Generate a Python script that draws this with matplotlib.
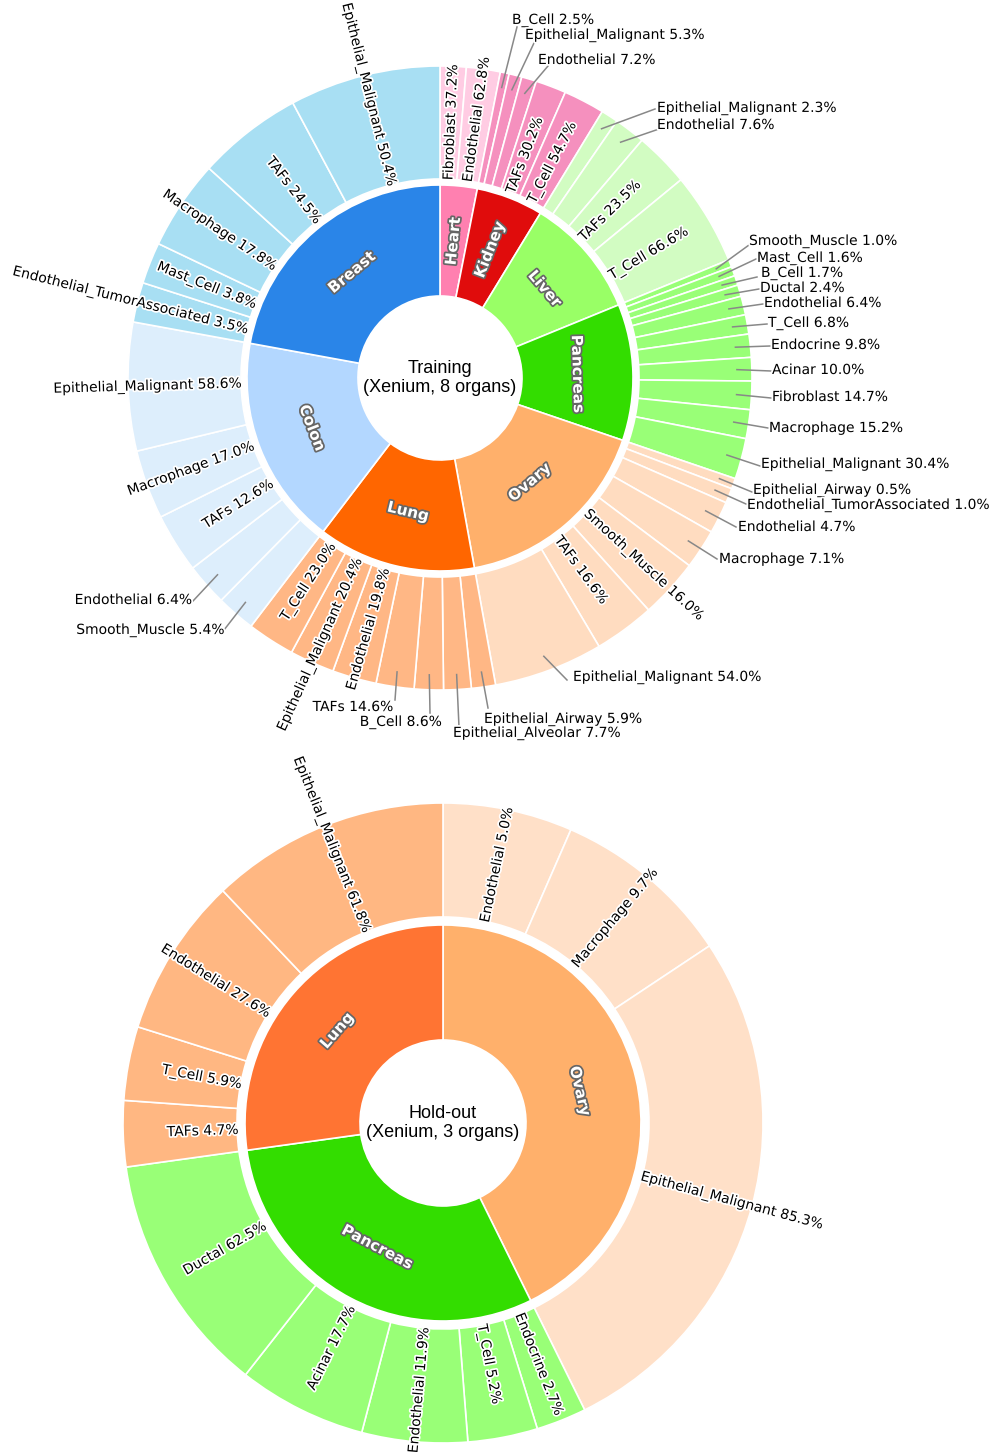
"""
Two-ring sunbursts of cell-type composition per organ (training vs hold-out).
Outer ring widths use sqrt of the within-organ percentages.
"""
import numpy as np
import matplotlib
matplotlib.use("Agg")
import matplotlib.pyplot as plt
import matplotlib.patheffects as pe

W, H = 996, 1452

# ---------------- training set (8 organs), clockwise from 12 o'clock ----------------
train_organs = ["Heart", "Kidney", "Liver", "Pancreas", "Ovary", "Lung", "Colon", "Breast"]
train_share = [3.1, 5.6, 10.1, 11.4, 16.9, 13.2, 17.5, 22.1]  # % of inner ring

train_types = {
    "Heart": ["Fibroblast", "Endothelial"],
    "Kidney": ["B_Cell", "Epithelial_Malignant", "Endothelial", "TAFs", "T_Cell"],
    "Liver": ["Epithelial_Malignant", "Endothelial", "TAFs", "T_Cell"],
    "Pancreas": ["Smooth_Muscle", "Mast_Cell", "B_Cell", "Ductal", "Endothelial", "T_Cell",
                 "Endocrine", "Acinar", "Fibroblast", "Macrophage", "Epithelial_Malignant"],
    "Ovary": ["Epithelial_Airway", "Endothelial_TumorAssociated", "Endothelial", "Macrophage",
              "Smooth_Muscle", "TAFs", "Epithelial_Malignant"],
    "Lung": ["Epithelial_Airway", "Epithelial_Alveolar", "B_Cell", "TAFs", "Endothelial",
             "Epithelial_Malignant", "T_Cell"],
    "Colon": ["Smooth_Muscle", "Endothelial", "TAFs", "Macrophage", "Epithelial_Malignant"],
    "Breast": ["Endothelial_TumorAssociated", "Mast_Cell", "Macrophage", "TAFs", "Epithelial_Malignant"],
}
train_pct = {
    "Heart": [37.2, 62.8],
    "Kidney": [2.5, 5.3, 7.2, 30.2, 54.7],
    "Liver": [2.3, 7.6, 23.5, 66.6],
    "Pancreas": [1.0, 1.6, 1.7, 2.4, 6.4, 6.8, 9.8, 10.0, 14.7, 15.2, 30.4],
    "Ovary": [0.5, 1.0, 4.7, 7.1, 16.0, 16.6, 54.0],
    "Lung": [5.9, 7.7, 8.6, 14.6, 19.8, 20.4, 23.0],
    "Colon": [5.4, 6.4, 12.6, 17.0, 58.6],
    "Breast": [3.5, 3.8, 17.8, 24.5, 50.4],
}

# ---------------- hold-out set (3 organs) ----------------
hold_organs = ["Ovary", "Pancreas", "Lung"]
hold_share = [42.7, 30.1, 27.2]
hold_types = {
    "Ovary": ["Endothelial", "Macrophage", "Epithelial_Malignant"],
    "Pancreas": ["Endocrine", "T_Cell", "Endothelial", "Acinar", "Ductal"],
    "Lung": ["TAFs", "T_Cell", "Endothelial", "Epithelial_Malignant"],
}
hold_pct = {
    "Ovary": [5.0, 9.7, 85.3],
    "Pancreas": [2.7, 5.2, 11.9, 17.7, 62.5],
    "Lung": [4.7, 5.9, 27.6, 61.8],
}

# colours
train_in_col = {"Heart": "#ff80b0", "Kidney": "#e00c0c", "Liver": "#99ff66", "Pancreas": "#33dd00",
                "Ovary": "#ffb06b", "Lung": "#ff6600", "Colon": "#b3d7ff", "Breast": "#2a85e8"}
train_out_col = {"Heart": "#ffcce3", "Kidney": "#f590be", "Liver": "#d2fcc2", "Pancreas": "#99ff77",
                 "Ovary": "#ffdcc0", "Lung": "#ffb785", "Colon": "#ddeefc", "Breast": "#a8dff3"}
hold_in_col = {"Ovary": "#ffb06b", "Pancreas": "#33dd00", "Lung": "#ff7433"}
hold_out_col = {"Ovary": "#ffe0c8", "Pancreas": "#99ff77", "Lung": "#ffb782"}

# labels placed outside with a leader line: text x, text y, ha, leader end x, y (image px)
train_callouts = {
    ("Kidney", "B_Cell"): (512, 20, "left", 517, 27),
    ("Kidney", "Epithelial_Malignant"): (525, 35, "left", 534, 43),
    ("Kidney", "Endothelial"): (538, 60, "left", 548, 66),
    ("Liver", "Epithelial_Malignant"): (657, 108, "left", 655, 109),
    ("Liver", "Endothelial"): (657, 125, "left", 659, 129),
    ("Pancreas", "Smooth_Muscle"): (749, 241, "left", 749, 245),
    ("Pancreas", "Mast_Cell"): (757, 258, "left", 756, 259),
    ("Pancreas", "B_Cell"): (761, 273, "left", 757, 277),
    ("Pancreas", "Ductal"): (760, 288, "left", 759, 289),
    ("Pancreas", "Endothelial"): (764, 303, "left", 763, 304),
    ("Pancreas", "T_Cell"): (768, 323, "left", 767, 324),
    ("Pancreas", "Endocrine"): (771, 345, "left", 770, 346),
    ("Pancreas", "Acinar"): (772, 370, "left", 771, 371),
    ("Pancreas", "Fibroblast"): (772, 397, "left", 771, 398),
    ("Pancreas", "Macrophage"): (769, 428, "left", 768, 428),
    ("Pancreas", "Epithelial_Malignant"): (761, 464, "left", 760, 466),
    ("Ovary", "Epithelial_Airway"): (753, 490, "left", 752, 492),
    ("Ovary", "Endothelial_TumorAssociated"): (747, 505, "left", 746, 504),
    ("Ovary", "Endothelial"): (738, 527, "left", 736, 527),
    ("Ovary", "Macrophage"): (719, 559, "left", 717, 559),
    ("Ovary", "Epithelial_Malignant"): (573, 677, "left", 567, 680),
    ("Lung", "Epithelial_Airway"): (484, 719, "left", 488, 708),
    ("Lung", "Epithelial_Alveolar"): (453, 733, "left", 459, 727),
    ("Lung", "B_Cell"): (442, 722, "right", 430, 713),
    ("Lung", "TAFs"): (393, 707, "right", 395, 700),
    ("Colon", "Endothelial"): (192, 600, "right", 193, 601),
    ("Colon", "Smooth_Muscle"): (224, 630, "right", 224, 630),
}

FS = 10
WHITE_HALO = [pe.withStroke(linewidth=2.5, foreground="white")]
DARK_HALO = [pe.withStroke(linewidth=2.5, foreground="#666666")]


def upright(a):
    a = (a + 180) % 360 - 180
    if a > 90:
        a -= 180
    elif a < -90:
        a += 180
    return a


def sunburst(ax, cx, cy, organs, share, types, pct, in_col, out_col,
             r_hole, r_mid, r_gap, r_out, title, callouts):
    c = (cx, H - cy)
    inner, _ = ax.pie(share, radius=r_mid, center=c, startangle=90, counterclock=False,
                      colors=[in_col[o] for o in organs],
                      wedgeprops=dict(width=r_mid - r_hole, edgecolor="white", linewidth=1.2))

    weights, items, cols = [], [], []
    for o, s in zip(organs, share):
        sq = np.sqrt(np.array(pct[o]))
        weights += list(s * sq / sq.sum())
        items += list(zip([o] * len(sq), types[o], pct[o]))
        cols += [out_col[o]] * len(sq)
    outer, _ = ax.pie(weights, radius=r_out, center=c, startangle=90, counterclock=False,
                      colors=cols,
                      wedgeprops=dict(width=r_out - r_gap, edgecolor="white", linewidth=1.2))

    # organ names
    rc = (r_hole + r_mid) / 2
    for w, o in zip(inner, organs):
        mid = (w.theta1 + w.theta2) / 2
        arc = rc * np.deg2rad(w.theta2 - w.theta1)
        rot = upright(mid) if arc < 60 else upright(mid - 90)
        ax.text(c[0] + rc * np.cos(np.deg2rad(mid)), c[1] + rc * np.sin(np.deg2rad(mid)), o,
                rotation=rot, rotation_mode="anchor", ha="center", va="center",
                fontsize=11, fontweight="bold", color="white", path_effects=DARK_HALO)

    # cell types
    ra = r_gap - 1
    for w, (o, t, v) in zip(outer, items):
        mid = (w.theta1 + w.theta2) / 2
        m = np.deg2rad(mid)
        txt = f"{t} {v:.1f}%"
        if (o, t) in callouts:
            tx, ty, ha, ex, ey = callouts[(o, t)]
            rs = r_out * 0.952
            ax.plot([c[0] + rs * np.cos(m), ex], [c[1] + rs * np.sin(m), H - ey],
                    color="#888888", lw=1.1, zorder=3)
            ax.text(tx, H - ty, txt, ha=ha, va="center", fontsize=FS, path_effects=WHITE_HALO)
        else:
            a = (mid + 180) % 360 - 180
            if -90 <= a <= 90:
                rot, ha = a, "left"
            else:
                rot, ha = upright(a), "right"
            ax.text(c[0] + ra * np.cos(m), c[1] + ra * np.sin(m), txt,
                    rotation=rot, rotation_mode="anchor", ha=ha, va="center",
                    fontsize=FS, path_effects=WHITE_HALO)

    ax.text(c[0], c[1], title, ha="center", va="center", fontsize=13,
            family="Liberation Sans", linespacing=1.15)


fig = plt.figure(figsize=(W / 100, H / 100), dpi=100)
ax = fig.add_axes([0, 0, 1, 1])

sunburst(ax, 440, 378, train_organs, train_share, train_types, train_pct,
         train_in_col, train_out_col, 82, 193, 199, 312,
         "Training\n(Xenium, 8 organs)", train_callouts)
sunburst(ax, 443, 1123, hold_organs, hold_share, hold_types, hold_pct,
         hold_in_col, hold_out_col, 83, 198, 206, 320,
         "Hold-out\n(Xenium, 3 organs)", {})

ax.set_xlim(0, W)
ax.set_ylim(0, H)
ax.set_aspect("equal")
ax.axis("off")
fig.savefig("out.png", dpi=100)
